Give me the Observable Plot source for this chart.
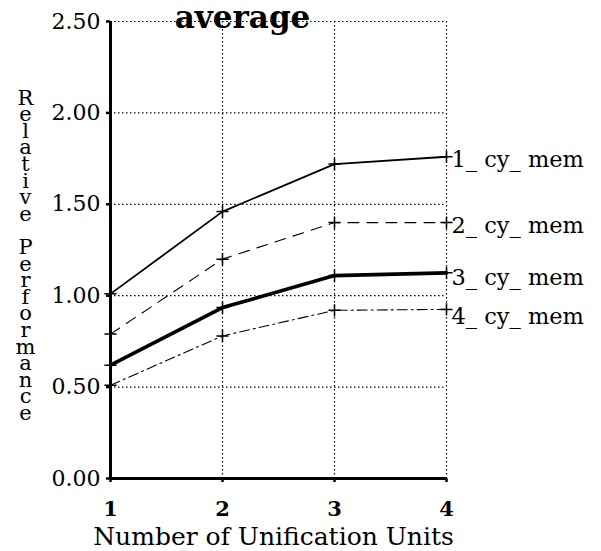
<!DOCTYPE html>
<html>
<head>
<meta charset="utf-8">
<script src="https://cdn.jsdelivr.net/npm/d3@7"></script>
<script src="https://cdn.jsdelivr.net/npm/@observablehq/plot@0.6"></script>
<style>
  html, body { margin: 0; padding: 0; background: #fff; }
  #chart { width: 601px; height: 551px; }
</style>
</head>
<body>
<div id="chart"></div>
<script>
const titleText = "average";
const xLabel = "Number of Unification Units";
const yLabel = "Relative Performance";
const units = [1, 2, 3, 4];
const yTicks = [0, 0.5, 1.0, 1.5, 2.0, 2.5];
const seriesNames = ["1_ cy_ mem", "2_ cy_ mem", "3_ cy_ mem", "4_ cy_ mem"];
const series1 = [1.01, 1.46, 1.72, 1.76];
const series2 = [0.79, 1.20, 1.40, 1.40];
const series3 = [0.62, 0.935, 1.11, 1.125];
const series4 = [0.51, 0.78, 0.92, 0.925];

const allSeries = [series1, series2, series3, series4];
const styles = [
  {strokeWidth: 1.8},
  {strokeWidth: 1.1, strokeDasharray: "11,8"},
  {strokeWidth: 3.6},
  {strokeWidth: 1.1, strokeDasharray: "10,4,2,4"}
];
const labelDy = [3, 3, 5, 7];

const marks = [];
marks.push(Plot.gridY(yTicks.filter(d => d > 0), {stroke: "black", strokeOpacity: 1, strokeWidth: 1.2, strokeDasharray: "1.5,2.5"}));
marks.push(Plot.gridX(units.filter(d => d > 1), {stroke: "black", strokeOpacity: 1, strokeWidth: 1.2, strokeDasharray: "1.5,2.5"}));

allSeries.forEach((vals, i) => {
  const data = units.map((u, j) => ({x: u, y: vals[j]}));
  marks.push(Plot.line(data, {x: "x", y: "y", stroke: "black", ...styles[i]}));
  marks.push(Plot.dot(data, {x: "x", y: "y", symbol: "plus", r: 4, stroke: "black", strokeWidth: 1.5}));
  marks.push(Plot.text([seriesNames[i]], {x: () => units[units.length - 1], y: () => vals[vals.length - 1], text: d => d, textAnchor: "start", dx: 5, dy: labelDy[i], fontSize: 22.5, fill: "black"}));
});

marks.push(Plot.ruleX([1], {y1: 0, y2: 2.5, stroke: "black", strokeWidth: 3}));
marks.push(Plot.ruleY([0], {x1: 1, x2: 4, stroke: "black", strokeWidth: 3}));

marks.push(Plot.axisY(yTicks, {tickFormat: d3.format(".2f"), tickSize: 4, tickPadding: 6, fontSize: 22, strokeWidth: 2.5, label: null}));
marks.push(Plot.axisX(units, {tickFormat: d3.format("d"), tickSize: 4, tickPadding: 19, fontSize: 21, fontWeight: "bold", strokeWidth: 2.5, label: null}));

marks.push(Plot.text([titleText], {frameAnchor: "top", text: d => d, dx: -36, dy: -3, lineAnchor: "middle", fontSize: 31, fontWeight: "bold", fill: "black"}));
marks.push(Plot.text([xLabel], {frameAnchor: "bottom", text: d => d, dx: -5, dy: 58, lineAnchor: "middle", fontSize: 25, fill: "black"}));
marks.push(Plot.text([yLabel], {frameAnchor: "left", text: d => d.split("").join("\n"), dx: -85, dy: 7, lineAnchor: "middle", lineHeight: 0.79, fontSize: 21, textAnchor: "middle", fill: "black"}));

const chart = Plot.plot({
  width: 601,
  height: 551,
  marginLeft: 110,
  marginRight: 155,
  marginTop: 21,
  marginBottom: 73,
  style: {background: "#fff", color: "black", fontFamily: "'DejaVu Serif', serif", overflow: "visible"},
  x: {domain: [1, 4]},
  y: {domain: [0, 2.5]},
  marks
});
document.getElementById("chart").appendChild(chart);
</script>
</body>
</html>
